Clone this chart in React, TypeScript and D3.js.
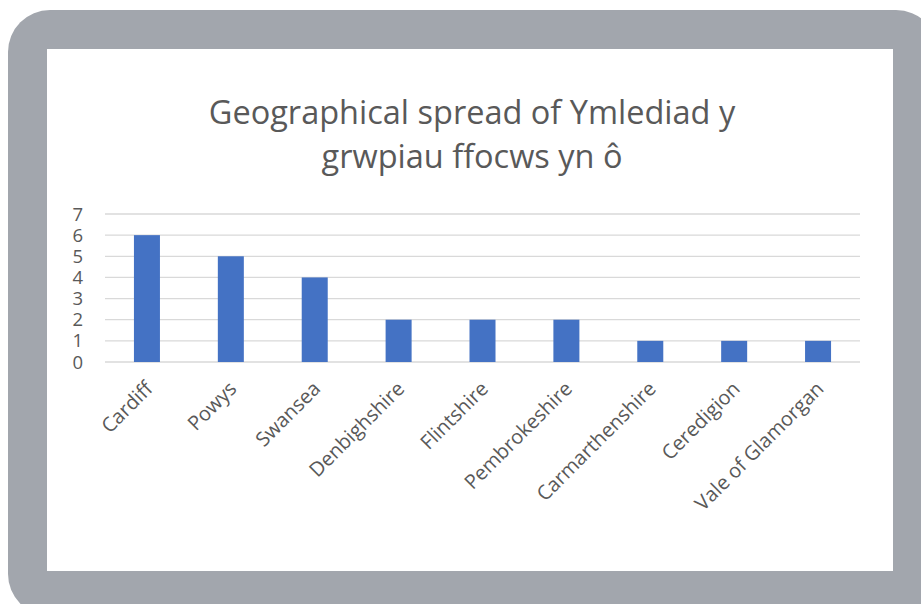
import React from "react";
import * as d3 from "d3";

const categories = ["Cardiff", "Powys", "Swansea", "Denbighshire", "Flintshire", "Pembrokeshire", "Carmarthenshire", "Ceredigion", "Vale of Glamorgan"];
const values = [6, 5, 4, 2, 2, 2, 1, 1, 1];
const yTicks = [0, 1, 2, 3, 4, 5, 6, 7];
const titleLines = ["Geographical spread of Ymlediad y", "grwpiau ffocws yn ô"];

const W = 921;
const H = 604;
const FONT = "'Open Sans', sans-serif";
const TEXT = "#595959";

export default function App() {
  const x = d3.scaleBand<string>().domain(categories).range([105, 860]).paddingInner(0.69).paddingOuter(0.345);
  const y = d3.scaleLinear().domain([0, 7]).range([362, 214]);

  return (
    <svg width={W} height={H} style={{ position: "absolute", left: 0, top: 0 }} xmlns="http://www.w3.org/2000/svg">
      <rect x={0} y={0} width={W} height={H} fill="#ffffff" />
      <rect x={8} y={10} width={930} height={606} rx={42} fill="#A2A6AD" />
      <rect x={47} y={49} width={846} height={522} fill="#ffffff" />
      {titleLines.map((t, i) => (
        <text key={i} x={472} y={124 + i * 44} textAnchor="middle" fontFamily={FONT} fontSize={32.5} fill={TEXT}>{t}</text>
      ))}
      {yTicks.map((t) => (
        <line key={"g" + t} x1={105} x2={860} y1={y(t)} y2={y(t)} stroke="#D9D9D9" strokeWidth={1.3} />
      ))}
      {yTicks.map((t) => (
        <text key={"t" + t} x={83} y={y(t) + 6.5} textAnchor="end" fontFamily={FONT} fontSize={18.5} fill={TEXT}>{t}</text>
      ))}
      {categories.map((c, i) => (
        <rect key={c} x={x(c)!} y={y(values[i])} width={x.bandwidth()} height={y(0) - y(values[i])} fill="#4472C4" />
      ))}
      {categories.map((c) => {
        const cx = x(c)! + x.bandwidth() / 2 + 7;
        const cy = 390;
        return (
          <text key={"l" + c} transform={`translate(${cx},${cy}) rotate(-45)`} textAnchor="end" fontFamily={FONT} fontSize={20} fill={TEXT}>{c}</text>
        );
      })}
    </svg>
  );
}
